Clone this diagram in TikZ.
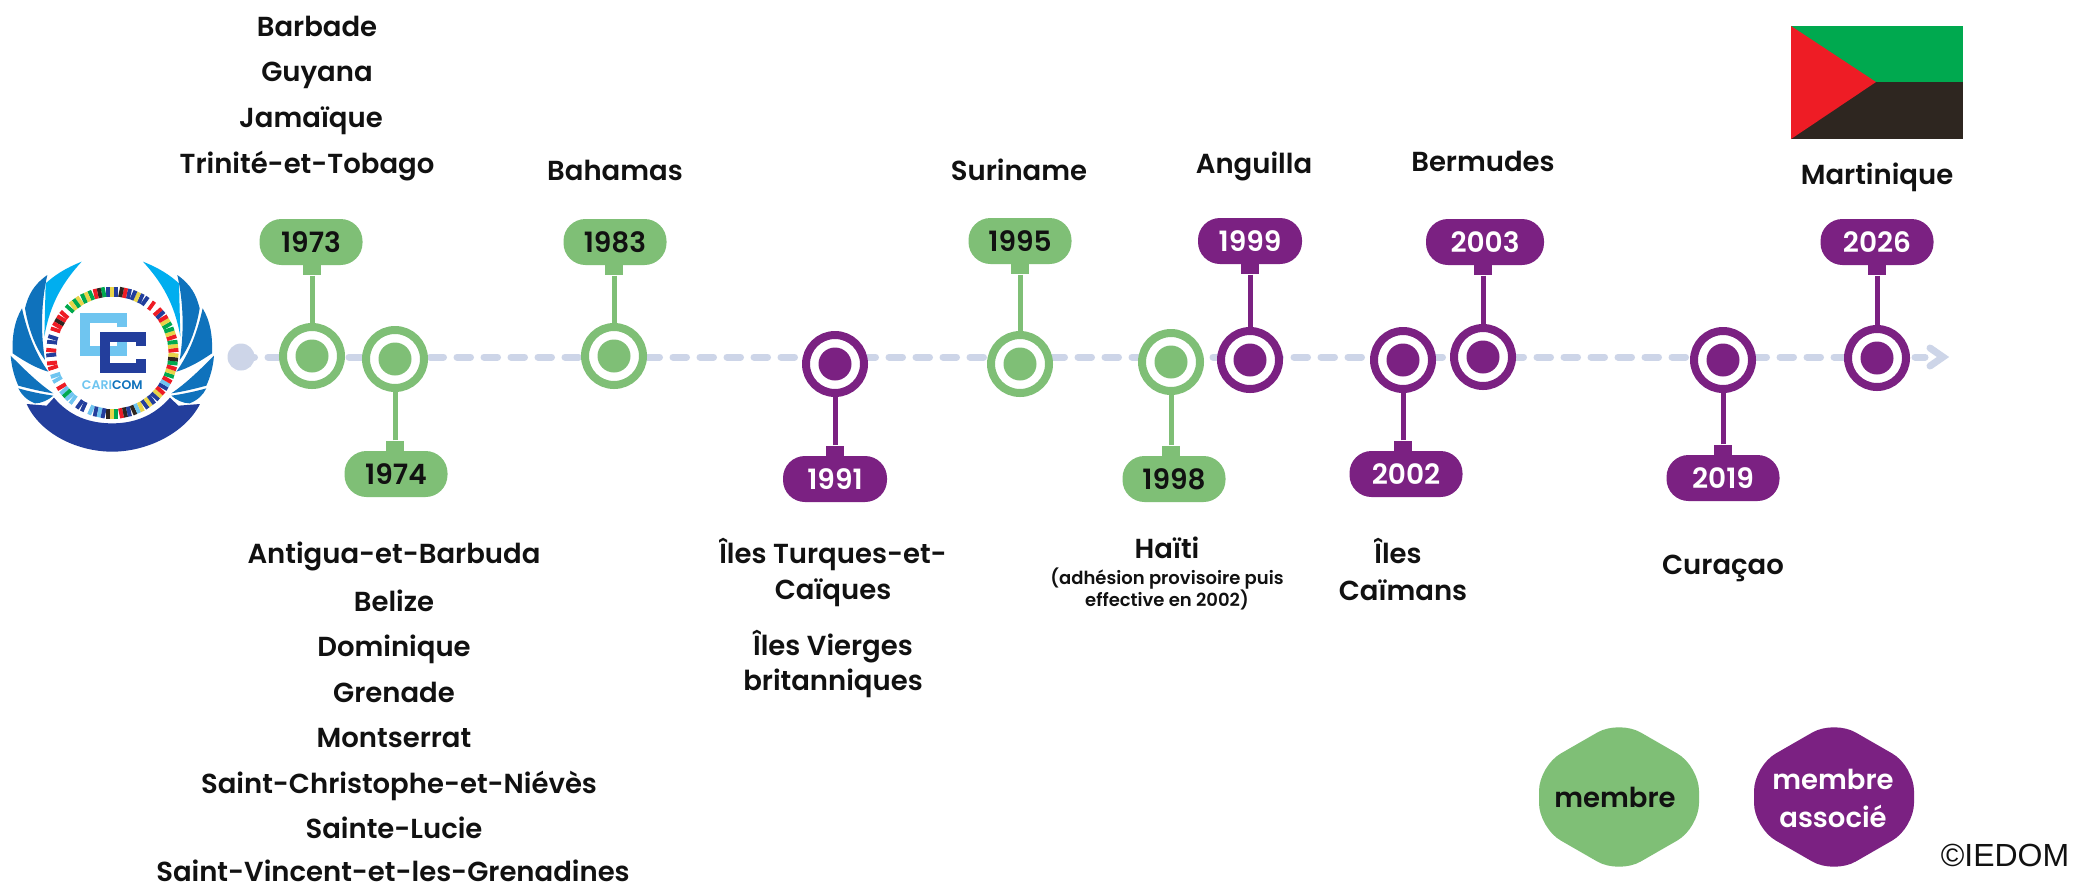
\documentclass[tikz,border=0pt]{standalone}
\usepackage{fontspec}
\setmainfont{Poppins SemiBold}
\newfontfamily\arialfont{Liberation Sans}
\definecolor{gr}{HTML}{7FBF76}
\definecolor{pu}{HTML}{7B2182}
\definecolor{tl}{HTML}{CDD5E8}
\definecolor{ink}{HTML}{111111}
\definecolor{fgreen}{HTML}{00A94F}
\definecolor{fred}{HTML}{EE1C25}
\definecolor{fblack}{HTML}{2E2620}
\definecolor{lgb}{HTML}{00AEEF}
\definecolor{lbl}{HTML}{6FC5F0}
\definecolor{mbl}{HTML}{0F72BC}
\definecolor{dbl}{HTML}{233E9C}
\definecolor{fy}{HTML}{E8D44A}
\tikzset{
 x=1pt,y=-1pt,
 lab/.style={font=\fontsize{27.5}{27.5}\selectfont,text=ink,inner sep=0pt,anchor=center,text height=19pt,text depth=0pt},
 smalllab/.style={font=\fontsize{18}{18}\selectfont,text=ink,inner sep=0pt,anchor=center,text height=12.5pt,text depth=0pt},
 pill/.style={rounded corners=22pt,minimum height=46pt,inner sep=0pt,font=\fontsize{28}{28}\selectfont},
 gpill/.style={pill,fill=gr,text=ink,minimum width=103pt},
 ppill/.style={pill,fill=pu,text=white,minimum width=#1},
 ppill/.default=104pt,
 marker/.style={circle,draw=#1,line width=8pt,fill=white,minimum size=58pt,inner sep=0pt},
 dot/.style={circle,fill=#1,minimum size=33pt,inner sep=0pt},
 stem/.style={line width=5pt,draw=#1},
 tab/.style={rectangle,fill=#1,minimum width=18pt,minimum height=12pt,inner sep=0pt},
 timeline/.style={line width=7pt,draw=tl,line cap=round,dash pattern=on 13.5pt off 13.5pt},
}
\newcommand{\milestone}[7]{% name, colour, x, y, pillstyle, px, py
 \node[marker=#2] (m#1) at (#3,#4) {};
 \node[dot=#2] (d#1) at (#3,#4) {};
 \node[#5] (p#1) at (#6,#7) {#1};
}
\begin{document}
\begin{tikzpicture}
\useasboundingbox (0,0) rectangle (2074,887);
\fill[white] (0,0) rectangle (2074,887);
% timeline
\node[circle,fill=tl,minimum size=27pt,inner sep=0pt] (start) at (241,357) {};
\coordinate (tlend) at (1925,357);
\draw[timeline] (start.center) -- (tlend);
\coordinate (chevA) at (1930,348);
\coordinate (chevB) at (1943,357);
\coordinate (chevC) at (1930,366);
\draw[line width=7pt,draw=tl,line cap=round,line join=miter] (chevA) -- (chevB) -- (chevC);
% milestones
\milestone{1973}{gr}{312}{356}{gpill}{311}{242}
\milestone{1974}{gr}{395}{359}{gpill}{396}{474}
\milestone{1983}{gr}{614}{356}{gpill}{615}{242}
\milestone{1991}{pu}{835}{364}{ppill}{835}{479}
\milestone{1995}{gr}{1020}{364}{gpill}{1020}{241}
\milestone{1998}{gr}{1171}{362}{gpill}{1174}{479}
\milestone{1999}{pu}{1250}{360}{ppill}{1250}{241}
\milestone{2002}{pu}{1403}{360}{ppill=113pt}{1406}{474}
\milestone{2003}{pu}{1483}{357}{ppill=118pt}{1485}{242}
\milestone{2019}{pu}{1723}{360}{ppill=113pt}{1723}{478}
\milestone{2026}{pu}{1877}{358}{ppill=113pt}{1877}{242}
% stems
\foreach \n/\c in {1973/gr,1983/gr,1995/gr,1999/pu,2003/pu,2026/pu}{
 \node[tab=\c,anchor=north] (t\n) at ([yshift=2pt]m\n.center |- p\n.south) {};
 \draw[stem=\c] (t\n.south) -- (m\n.north);
}
\foreach \n/\c in {1974/gr,1991/pu,1998/gr,2002/pu,2019/pu}{
 \node[tab=\c,anchor=south] (t\n) at ([yshift=-2pt]m\n.center |- p\n.north) {};
 \draw[stem=\c] (t\n.north) -- (m\n.south);
}
% labels
\node[lab] (a1) at (317,27) {Barbade};
\node[lab] (a2) at (317,72) {Guyana};
\node[lab] (a3) at (311,118) {Jamaïque};
\node[lab] (a4) at (307,164) {Trinité-et-Tobago};
\node[lab] (b1) at (615,171) {Bahamas};
\node[lab] (b2) at (1019,171) {Suriname};
\node[lab] (b3) at (1254,164) {Anguilla};
\node[lab] (b4) at (1483,162) {Bermudes};
\node[lab] (b5) at (1877,175) {Martinique};
\node[lab] (c1) at (394,554) {Antigua-et-Barbuda};
\node[lab] (c2) at (394,602) {Belize};
\node[lab] (c3) at (394,647) {Dominique};
\node[lab] (c4) at (394,693) {Grenade};
\node[lab] (c5) at (394,738) {Montserrat};
\node[lab] (c6) at (399,784) {Saint-Christophe-et-Niévès};
\node[lab] (c7) at (394,829) {Sainte-Lucie};
\node[lab] (c8) at (393,872) {Saint-Vincent-et-les-Grenadines};
\node[lab] (e1) at (833,554) {Îles Turques-et-};
\node[lab] (e2) at (833,590) {Caïques};
\node[lab] (e3) at (833,646) {Îles Vierges};
\node[lab] (e4) at (833,681) {britanniques};
\node[lab] (f1) at (1167,549) {Haïti};
\node[smalllab] (f2) at (1167,578) {(adhésion provisoire puis};
\node[smalllab] (f3) at (1167,600) {effective en 2002)};
\node[lab] (g1) at (1398,554) {Îles};
\node[lab] (g2) at (1403,591) {Caïmans};
\node[lab] (h1) at (1723,565) {Curaçao};
% flag of Martinique
\fill[fgreen] (1791,26) rectangle (1963,82);
\fill[fblack] (1791,82) rectangle (1963,139);
\fill[fred] (1791,26) -- (1876,82) -- (1791,139) -- cycle;
% legend
\fill[gr,rounded corners=25pt] (1619,720) -- (1699,766) -- (1699,828) -- (1619,874) -- (1539,828) -- (1539,766) -- cycle;
\fill[pu,rounded corners=25pt] (1834,720) -- (1914,766) -- (1914,828) -- (1834,874) -- (1754,828) -- (1754,766) -- cycle;
\node[lab] (l1) at (1615,798) {membre};
\node[lab,text=white] (l2) at (1833,780) {membre};
\node[lab,text=white] (l3) at (1833,818) {associé};
\node[inner sep=0pt,font=\arialfont\fontsize{32}{32}\selectfont,text=ink] (copy) at (2005,855) {©IEDOM};
% logo (drawn directly)
\begin{scope}[shift={(0,240)},x=0.33333pt,y=-0.33333pt]
 \foreach \s/\o in {1/0,-1/674}{
 \begin{scope}[shift={(\o,0)},xscale=\s]
  \fill[lgb] (245,65) .. controls (195,85) and (165,105) .. (137,130) -- (133,290) .. controls (150,190) and (190,125) .. (245,65) -- cycle;
  \fill[mbl] (142,105) .. controls (100,135) and (85,165) .. (75,205) .. controls (85,265) and (105,320) .. (135,360) .. controls (120,270) and (125,180) .. (142,105) -- cycle;
  \fill[mbl] (66,205) .. controls (42,245) and (36,290) .. (38,340) .. controls (75,365) and (110,385) .. (145,395) .. controls (105,340) and (80,270) .. (66,205) -- cycle;
  \fill[mbl] (32,347) .. controls (35,385) and (45,415) .. (55,437) .. controls (85,445) and (125,455) .. (160,460) .. controls (115,430) and (70,385) .. (32,347) -- cycle;
  \fill[mbl] (55,445) .. controls (65,465) and (80,480) .. (105,490) .. controls (125,490) and (145,480) .. (160,467) .. controls (125,462) and (90,455) .. (55,445) -- cycle;
 \end{scope}}
 \fill[dbl] (80,492) .. controls (120,580) and (230,635) .. (337,635) .. controls (440,635) and (555,580) .. (600,492) -- (535,497) -- (510,473) .. controls (460,530) and (400,550) .. (337,550) .. controls (270,550) and (210,530) .. (162,473) -- (140,497) -- cycle;
 \foreach \a/\c/\d/\e in {90/fblack/fy/fgreen,78/fred/fblack/dbl,66/fblack/lbl/fy,54/dbl/fy/dbl,42/dbl/fy/fred,30/dbl/lbl/fred,18/fgreen/fy/fred,6/fgreen/fblack/fy,-6/fred/fy/fgreen,-18/fred/fy/fgreen,-30/fgreen/fy/fred,-42/dbl/fred/white,-54/fred/white/dbl,-66/dbl/fy/dbl,-78/dbl/fred/fblack,-90/dbl/fy/dbl,-102/fgreen/fblack/fred,-114/fgreen/fy/fgreen,-126/fy/fgreen/fy,-138/fgreen/white/fred,-150/fred/fblack/fred,-162/fred/white/dbl,-174/dbl/white/fred,174/dbl/white/fred,162/fred/white/lbl,150/lbl/white/fred,138/lbl/fgreen/lbl,126/lbl/white/dbl,114/dbl/white/lbl,102/dbl/lbl/dbl}{
  \begin{scope}[shift={(337,338)},rotate=-\a,x=0.33333pt,y=0.33333pt]
   \fill[\c] (168,-18) rectangle (198,-6);
   \fill[\d] (168,-6) rectangle (198,6);
   \fill[\e] (168,6) rectangle (198,18);
  \end{scope}
 }
 \draw[line width=10pt,draw=lbl,line join=miter] (367,262) -- (367,235) -- (255,235) -- (255,333) -- (367,333) -- (367,306);
 \draw[line width=10pt,draw=dbl,line join=miter] (424,318) -- (424,290) -- (315,290) -- (315,385) -- (424,385) -- (424,357);
 \node[inner sep=0pt,font=\fontsize{12.5}{12}\selectfont] (logotext) at (337,435) {\textcolor{lbl}{CARI}\textcolor{mbl}{COM}};
\end{scope}
\end{tikzpicture}
\end{document}
